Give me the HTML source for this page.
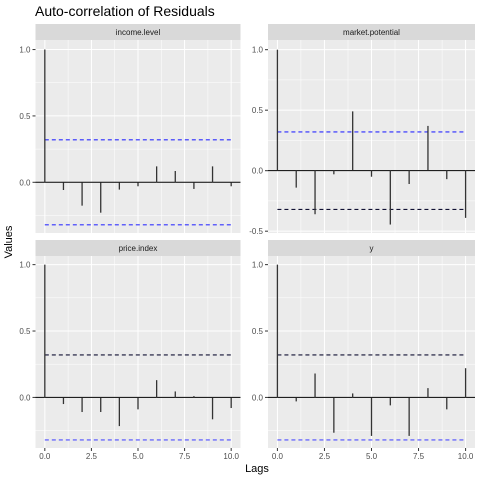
<!DOCTYPE html>
<html><head><meta charset="utf-8"><style>
body{margin:0;background:#fff}
svg{display:block;font-family:"Liberation Sans",sans-serif}
</style></head><body>
<svg id="chart" width="480" height="480" viewBox="0 0 480 480">
<text x="35" y="16" font-size="14" fill="#000">Auto-correlation of Residuals</text>
<text x="257" y="472" font-size="11" text-anchor="middle" fill="#000">Lags</text>
<text transform="translate(12,242) rotate(-90)" font-size="11" text-anchor="middle" fill="#000">Values</text>
</svg>
<script>
const lags = [0,1,2,3,4,5,6,7,8,9,10];
const panelNames = ["income.level","market.potential","price.index","y"];
const incomeLevel = [1.0,-0.058,-0.176,-0.229,-0.055,-0.03,0.12,0.085,-0.05,0.12,-0.03];
const marketPotential = [1.0,-0.14,-0.36,-0.03,0.49,-0.05,-0.445,-0.11,0.37,-0.07,-0.39];
const priceIndex = [1.0,-0.05,-0.11,-0.11,-0.216,-0.09,0.13,0.045,0.01,-0.165,-0.08];
const ySeries = [1.0,-0.03,0.18,-0.266,0.03,-0.29,-0.06,-0.29,0.07,-0.09,0.22];
const ciBound = [0.32,0.32,0.32,0.32];
const yTicksA = ["0.0","0.5","1.0"];
const yTicksB = ["-0.5","0.0","0.5","1.0"];
const xTicks = ["0.0","2.5","5.0","7.5","10.0"];

const NS="http://www.w3.org/2000/svg";
const svg=document.getElementById('chart');
function mk(t,a,p){const e=document.createElementNS(NS,t);for(const k in a)e.setAttribute(k,a[k]);(p||svg).appendChild(e);return e;}

const panels=[
 {data:incomeLevel,x0:35.5,x1:240.5,y0:40,y1:233,ymin:-0.382,ymax:1.072,ticks:yTicksA,sy:24,showX:false,hiCol:"#2a2aff",loCol:"#3333ff"},
 {data:marketPotential,x0:268,x1:475,y0:40,y1:233,ymin:-0.515,ymax:1.08,ticks:yTicksB,sy:24,showX:false,hiCol:"#2a2aff",loCol:"#111133"},
 {data:priceIndex,x0:35.5,x1:240.5,y0:256,y1:448,ymin:-0.381,ymax:1.065,ticks:yTicksA,sy:240,showX:true,hiCol:"#111133",loCol:"#4d4dff"},
 {data:ySeries,x0:268,x1:475,y0:256,y1:448,ymin:-0.381,ymax:1.065,ticks:yTicksA,sy:240,showX:true,hiCol:"#111133",loCol:"#4d4dff"}
];

panels.forEach((p,i)=>{
 const g=mk('g',{});
 
 
 const xs=v=>p.x0+(v+0.5)/11*(p.x1-p.x0);
 const ys=v=>p.y1-(v-p.ymin)/(p.ymax-p.ymin)*(p.y1-p.y0);
 const bg=mk('rect',{x:p.x0,y:p.y0,width:p.x1-p.x0,height:p.y1-p.y0,fill:"#ebebeb"},g);
 
 
 const strip=mk('rect',{x:p.x0,y:p.sy,width:p.x1-p.x0,height:p.y0-p.sy,fill:"#d9d9d9"},g);
 
 
 const st=mk('text',{x:(p.x0+p.x1)/2,y:(p.sy+p.y0)/2+3,"font-size":"8","text-anchor":"middle",fill:"#1a1a1a"},g);
 st.textContent=panelNames[i];
 
 
 const tv=p.ticks.map(Number);
 const step=0.5;
 for(let v=tv[0]-step/2; v<=p.ymax; v+=step/2){
   if(v<p.ymin) continue;
   const major=tv.some(t=>Math.abs(t-v)<1e-6);
   mk('line',{x1:p.x0,x2:p.x1,y1:ys(v),y2:ys(v),stroke:"#fff","stroke-width":major?1:0.5},g);
 }
 for(let v=0; v<=10; v+=1.25){
   const major=Math.abs(v/2.5-Math.round(v/2.5))<1e-6;
   mk('line',{x1:xs(v),x2:xs(v),y1:p.y0,y2:p.y1,stroke:"#fff","stroke-width":major?1:0.5},g);
 }
 p.ticks.forEach(t=>{
   const y=ys(Number(t));
   mk('line',{x1:p.x0-3,x2:p.x0,y1:y,y2:y,stroke:"#333","stroke-width":1},g);
   const tx=mk('text',{x:p.x0-5,y:y+3,"font-size":"8","text-anchor":"end",fill:"#4d4d4d"},g);
   tx.textContent=t;
   
   
 });
 if(p.showX){
   xTicks.forEach(t=>{
     const x=xs(Number(t));
     mk('line',{x1:x,x2:x,y1:p.y1,y2:p.y1+3,stroke:"#333","stroke-width":1},g);
     const tx=mk('text',{x:x,y:p.y1+11,"font-size":"8","text-anchor":"middle",fill:"#4d4d4d"},g);
     tx.textContent=t;
     
     
   });
 }
 mk('line',{x1:p.x0,x2:p.x1,y1:ys(0),y2:ys(0),stroke:"#000","stroke-width":1},g);
 const hi=mk('line',{x1:xs(0),x2:xs(10),y1:ys(ciBound[i]),y2:ys(ciBound[i]),stroke:p.hiCol,"stroke-width":1.1,"stroke-dasharray":"4,3"},g);
 
 
 const lo=mk('line',{x1:xs(0),x2:xs(10),y1:ys(-ciBound[i]),y2:ys(-ciBound[i]),stroke:p.loCol,"stroke-width":1.1,"stroke-dasharray":"4,3"},g);
 
 
 p.data.forEach((v,j)=>{
   const s=mk('line',{x1:xs(lags[j]),x2:xs(lags[j]),y1:ys(0),y2:ys(v),stroke:"#333","stroke-width":1.3},g);
   
   
 });
});
</script>
</body></html>
